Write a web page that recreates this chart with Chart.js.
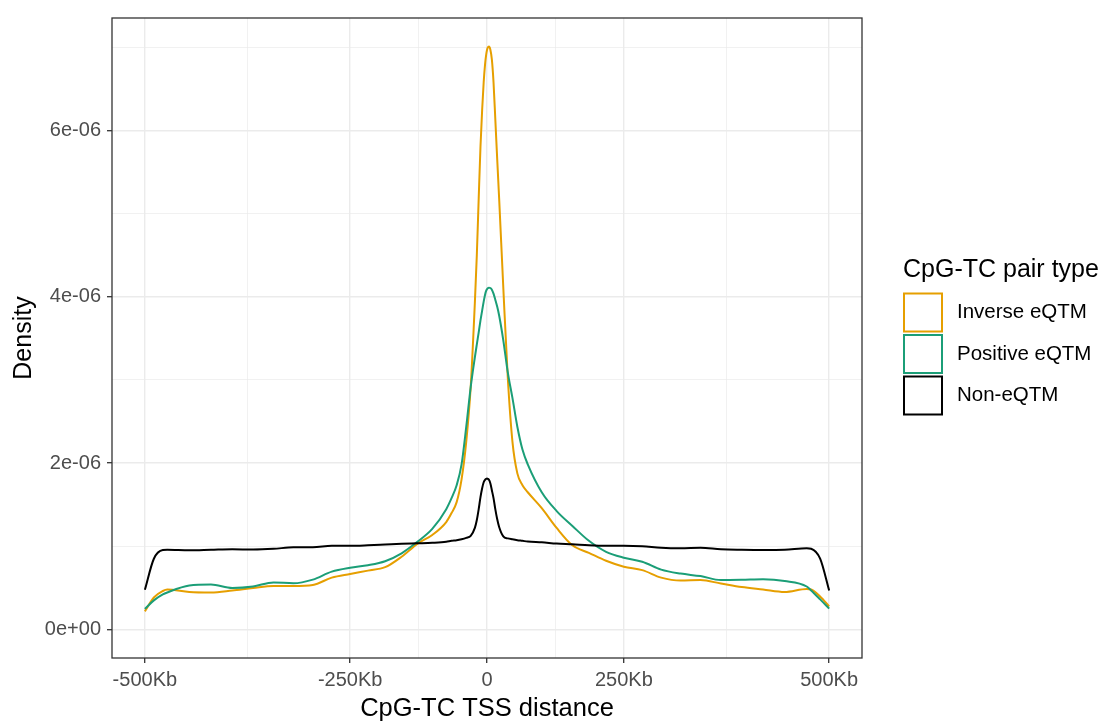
<!DOCTYPE html>
<html>
<head>
<meta charset="utf-8">
<script src="https://cdn.jsdelivr.net/npm/chart.js@4.4.1/dist/chart.umd.min.js"></script>
<style>
    html, body { margin: 0; padding: 0; background: #ffffff; }
    #wrap { width: 1106px; height: 722px; }
</style>
</head>
<body>
<div id="wrap"><canvas id="tss-density-chart" width="1106" height="722"></canvas></div>
<script>
// CpG to TC TSS distance (Kb) where the curves were read
const distanceKb = [
    -500, -490, -480, -475, -450, -425, -400, -375, -350, -325, -300, -275, -250, -225, -200, -175, -150, -125, -100,
    -90, -80, -70, -60, -50, -40, -35, -30, -25, -20, -15, -10, -5, 0,
    5, 10, 15, 20, 25, 30, 35, 40, 50, 60, 70, 80, 90,
    100, 125, 150, 175, 200, 225, 250, 275, 300, 325, 350, 375, 400, 425, 450, 475, 480, 490, 500
];

// density, in units of 1e-06
const inverseDensity = [
    0.218, 0.385, 0.463, 0.481, 0.451, 0.445, 0.469, 0.499, 0.523, 0.523, 0.535, 0.624, 0.668, 0.708, 0.749, 0.875, 1.030, 1.137, 1.292,
    1.400, 1.531, 1.805, 2.259, 2.915, 3.930, 4.502, 5.183, 5.803, 6.245, 6.579, 6.794, 6.913, 6.967,
    6.996, 7.008, 6.973, 6.853, 6.579, 6.137, 5.660, 5.183, 4.109, 3.035, 2.259, 1.877, 1.734,
    1.650, 1.459, 1.221, 1.012, 0.922, 0.827, 0.755, 0.714, 0.624, 0.588, 0.594, 0.553, 0.511, 0.481, 0.451, 0.487, 0.481, 0.397, 0.278
];
const positiveDensity = [
    0.248, 0.350, 0.421, 0.445, 0.529, 0.541, 0.499, 0.517, 0.566, 0.556, 0.600, 0.696, 0.743, 0.773, 0.821, 0.916, 1.054, 1.209, 1.447,
    1.579, 1.734, 1.985, 2.438, 2.915, 3.273, 3.428, 3.572, 3.715, 3.834, 3.942, 4.025, 4.073, 4.091,
    4.103, 4.109, 4.105, 4.085, 4.037, 3.965, 3.882, 3.774, 3.476, 3.094, 2.784, 2.438, 2.163,
    1.985, 1.650, 1.424, 1.245, 1.066, 0.934, 0.863, 0.815, 0.720, 0.672, 0.642, 0.594, 0.597, 0.603, 0.582, 0.517, 0.469, 0.362, 0.251
];
const nonDensity = [
    0.477, 0.851, 0.955, 0.958, 0.952, 0.958, 0.964, 0.962, 0.970, 0.988, 0.988, 1.006, 1.006, 1.012, 1.021, 1.030, 1.036, 1.042, 1.054,
    1.066, 1.072, 1.084, 1.101, 1.125, 1.221, 1.316, 1.447, 1.591, 1.698, 1.770, 1.800, 1.811, 1.814,
    1.811, 1.800, 1.758, 1.674, 1.579, 1.447, 1.328, 1.233, 1.119, 1.095, 1.084, 1.074, 1.066,
    1.057, 1.048, 1.033, 1.024, 1.012, 1.006, 1.006, 1.000, 0.982, 0.976, 0.982, 0.964, 0.958, 0.955, 0.958, 0.976, 0.970, 0.851, 0.469
];

const seriesNames = ['Inverse eQTM', 'Positive eQTM', 'Non-eQTM'];
const seriesColors = ['#E69F00', '#1B9E77', '#000000'];
const legendTitle = 'CpG-TC pair type';

const xBreaksKb = [-500, -250, 0, 250, 500];
const xBreakLabels = ['-500Kb', '-250Kb', '0', '250Kb', '500Kb'];
const yBreaks = [0, 2, 4, 6];
const yBreakLabels = ['0e+00', '2e-06', '4e-06', '6e-06'];
const yMinorBreaks = [1, 3, 5, 7];

const FONT = '"Liberation Sans", Arial, Helvetica, sans-serif';
const AREA = { left: 112, right: 862, top: 13, bottom: 658 };

// the original x axis is stretched: 250Kb sits 40% of the way out to 500Kb
const xPower = Math.log(0.4) / Math.log(0.5);
function axisPos(kb) {
    return Math.sign(kb) * 500 * Math.pow(Math.abs(kb) / 500, xPower);
}

function buildXTicks() {
    const major = xBreaksKb.map((kb, i) => ({ value: axisPos(kb), label: xBreakLabels[i] }));
    const minor = [];
    for (let i = 0; i < major.length - 1; i++) {
        minor.push({ value: (major[i].value + major[i + 1].value) / 2, label: '', minor: true });
    }
    return major.concat(minor).sort((a, b) => a.value - b.value);
}

function buildYTicks() {
    const major = yBreaks.map((v, i) => ({ value: v, label: yBreakLabels[i] }));
    const minor = yMinorBreaks.map(v => ({ value: v, label: '', minor: true }));
    return major.concat(minor).sort((a, b) => a.value - b.value);
}

const gridOptions = {
    color: '#EBEBEB',
    lineWidth: (ctx) => (ctx.tick && ctx.tick.minor ? 0.7 : 1.4),
    tickColor: (ctx) => (ctx.tick && ctx.tick.minor ? 'rgba(0,0,0,0)' : '#333333'),
    tickWidth: 1.3,
    tickLength: 5,
};

const panelFrame = {
    id: 'panelFrame',
    afterDatasetsDraw(chart) {
        const { ctx, chartArea } = chart;
        ctx.save();
        ctx.strokeStyle = '#333333';
        ctx.lineWidth = 1.3;
        ctx.strokeRect(chartArea.left, chartArea.top, chartArea.right - chartArea.left, chartArea.bottom - chartArea.top);
        ctx.restore();
    }
};

const keyLegend = {
    id: 'keyLegend',
    afterDraw(chart) {
        const ctx = chart.ctx;
        const x = 904, keySize = 38, firstTop = 293.5, step = 41.5;
        ctx.save();
        ctx.fillStyle = '#000000';
        ctx.textBaseline = 'middle';
        ctx.textAlign = 'left';
        ctx.font = '25px ' + FONT;
        ctx.fillText(legendTitle, 903, 270);
        ctx.font = '20.5px ' + FONT;
        seriesNames.forEach((name, i) => {
            const top = firstTop + i * step;
            ctx.strokeStyle = seriesColors[i];
            ctx.lineWidth = 2;
            ctx.strokeRect(x, top, keySize, keySize);
            ctx.fillStyle = '#000000';
            ctx.fillText(name, 957, top + keySize / 2);
        });
        ctx.restore();
    }
};

function lineData(values) {
    return distanceKb.map((kb, i) => ({ x: axisPos(kb), y: values[i] }));
}

function densityChart() {
    Chart.defaults.font.family = FONT;
    const target = document.getElementById('tss-density-chart');
    const series = [inverseDensity, positiveDensity, nonDensity];

    new Chart(target, {
        type: 'line',
        data: {
            datasets: series.map((values, i) => ({
                label: seriesNames[i],
                data: lineData(values),
                borderColor: seriesColors[i],
                backgroundColor: '#ffffff',
                borderWidth: 2,
                pointRadius: 0,
                fill: false,
                cubicInterpolationMode: 'monotone',
                order: series.length - i,
            }))
        },
        options: {
            responsive: false,
            animation: false,
            layout: {
                padding: { top: AREA.top, right: 1106 - AREA.right, left: 0, bottom: 0 }
            },
            scales: {
                x: {
                    type: 'linear',
                    min: -548,
                    max: 548,
                    afterBuildTicks: (scale) => { scale.ticks = buildXTicks(); },
                    afterFit: (scale) => { scale.height = 722 - AREA.bottom; },
                    ticks: {
                        autoSkip: false,
                        maxRotation: 0,
                        padding: 5,
                        color: '#4D4D4D',
                        font: { size: 20 },
                        callback: (value, index, ticks) => ticks[index].label,
                    },
                    grid: gridOptions,
                    border: { display: false },
                    title: {
                        display: true,
                        text: 'CpG-TC TSS distance',
                        color: '#000000',
                        font: { size: 25.5 },
                        padding: { top: 0, bottom: -2 },
                    },
                },
                y: {
                    type: 'linear',
                    min: -0.3425,
                    max: 7.351,
                    afterBuildTicks: (scale) => { scale.ticks = buildYTicks(); },
                    afterFit: (scale) => { scale.width = AREA.left; },
                    ticks: {
                        autoSkip: false,
                        padding: 6,
                        color: '#4D4D4D',
                        font: { size: 20 },
                        callback: (value, index, ticks) => ticks[index].label,
                    },
                    grid: gridOptions,
                    border: { display: false },
                    title: {
                        display: true,
                        text: 'Density',
                        color: '#000000',
                        font: { size: 25 },
                        padding: { top: 9, bottom: 0 },
                    },
                },
            },
            plugins: {
                legend: { display: false },
                tooltip: { enabled: false },
            },
        },
        plugins: [panelFrame, keyLegend],
    });
}

densityChart();
</script>
</body>
</html>
